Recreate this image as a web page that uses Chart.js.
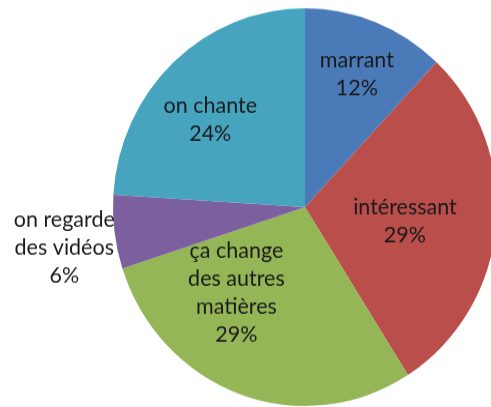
<!DOCTYPE html>
<html>
<head>
<meta charset="utf-8">
<script src="https://cdn.jsdelivr.net/npm/chart.js@4"></script>
<style>
  html, body { margin: 0; padding: 0; background: #fff; overflow: hidden; }
  #wrap { width: 491px; height: 407px; overflow: hidden; }
  #stretch { width: 510px; height: 393px; transform: scaleY(1.0356); transform-origin: 0 0; }
</style>
</head>
<body>
<div id="wrap"><div id="stretch"><canvas id="pie" width="510" height="393"></canvas></div></div>
<script>
// data
const categories = ["marrant", "intéressant", "ça change des autres matières", "on regarde des vidéos", "on chante"];
const labelLines = [["marrant"], ["intéressant"], ["ça change", "des autres", "matières"], ["on regarde", "des vidéos"], ["on chante"]];
const shares = [12, 29, 29, 6, 24];
const colors = ["#4A7BB8", "#B94E4B", "#94B656", "#7B5F9E", "#46A4BF"];

// label placement: position along the slice's sweep, and distance as a fraction of the radius
const labelSweep = [0.51, 0.52, 0.69, 0.41, 0.44];
const labelRadius = [0.72, 0.525, 0.56, 1.27, 0.66];

const sliceLabels = {
    id: "sliceLabels",
    afterDatasetsDraw(chart) {
        const ctx = chart.ctx;
        const meta = chart.getDatasetMeta(0);
        ctx.save();
        ctx.font = "21.5px Lato";
        ctx.fillStyle = "#1a1a1a";
        ctx.textAlign = "center";
        ctx.textBaseline = "middle";
        meta.data.forEach((arc, i) => {
            const a = arc.startAngle + (arc.endAngle - arc.startAngle) * labelSweep[i];
            const r = arc.outerRadius * labelRadius[i];
            const cx = arc.x + Math.cos(a) * r;
            const cy = arc.y + Math.sin(a) * r;
            const lines = labelLines[i].concat([shares[i] + "%"]);
            const lh = 27;
            const top = cy - (lines.length - 1) * lh / 2;
            lines.forEach((t, k) => ctx.fillText(t, cx, top + k * lh));
        });
        ctx.restore();
    }
};

new Chart(document.getElementById("pie"), {
    type: "pie",
    data: {
        labels: categories,
        datasets: [{
            data: shares,
            backgroundColor: colors,
            borderWidth: 0
        }]
    },
    options: {
        responsive: false,
        animation: false,
        devicePixelRatio: 1,
        layout: { padding: { left: 113, right: 13, top: 8, bottom: 1 } },
        plugins: {
            legend: { display: false },
            tooltip: { enabled: false }
        }
    },
    plugins: [sliceLabels]
});
</script>
</body>
</html>
